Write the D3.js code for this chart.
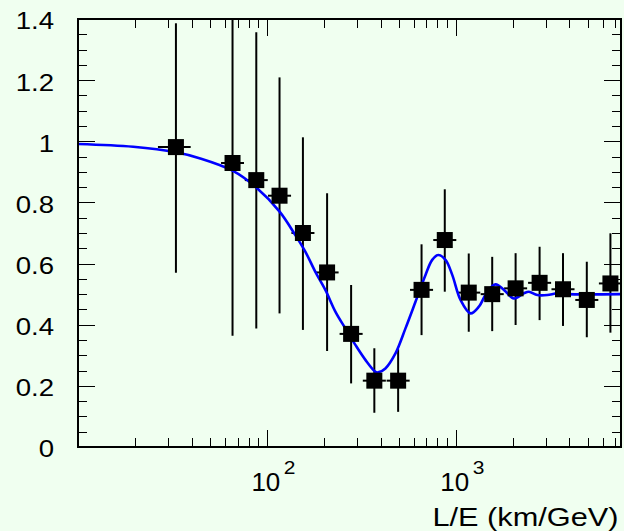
<!DOCTYPE html>
<html>
<head>
<meta charset="utf-8">
<script src="https://cdn.jsdelivr.net/npm/d3@7"></script>
<style>
  html, body { margin: 0; padding: 0; background: #f0fff0; }
  svg { display: block; }
  text { font-family: "Liberation Sans", Arial, Helvetica, sans-serif; fill: #000; }
</style>
</head>
<body>
<svg id="chart" width="624" height="531"></svg>
<script>
// Measured ratio of observed to expected events vs L/E, with bin extents and errors
const binCentre = [33.0, 65.8, 87.9, 116.7, 155.2, 208.4, 279.3, 370.7, 495.5, 659.2, 875, 1172, 1560, 2075, 2780, 3698, 4943, 6592];
const binLow    = [26.5, 57.2, 76.4, 101.4, 134.9, 181.1, 242.7, 322.1, 430.6, 572.8, 760.4, 1018.5, 1355.6, 1803.2, 2415.8, 3213.6, 4295.5, 5728.4];
const binHigh   = [39.5, 75.7, 101.1, 134.3, 178.6, 239.8, 321.4, 426.6, 570.2, 758.5, 1006.9, 1348.6, 1795.1, 2387.7, 3199, 4255.3, 5688, 7585.4];
const ratio     = [0.981, 0.929, 0.873, 0.822, 0.700, 0.571, 0.370, 0.217, 0.217, 0.514, 0.677, 0.505, 0.500, 0.519, 0.537, 0.516, 0.481, 0.535];
const errUp     = [1.386, 1.49, 1.357, 1.209, 1.013, 0.830, 0.530, 0.323, 0.320, 0.663, 0.843, 0.633, 0.622, 0.634, 0.655, 0.634, 0.606, 0.699];
const errDown   = [0.570, 0.364, 0.388, 0.437, 0.383, 0.314, 0.208, 0.112, 0.115, 0.366, 0.508, 0.377, 0.379, 0.399, 0.415, 0.396, 0.359, 0.374];

// Oscillation expectation (best fit), sampled along L/E
const fitLE    = [10, 19.6, 33, 44.4, 65.8, 87.9, 116.8, 141.5, 159.8, 180.6, 204, 230.5, 260.4, 294.2, 332.4, 375.7, 388, 424.4, 479.6, 541.9, 612.3, 691.8, 750.6, 807.6, 883, 958.3, 1060, 1198, 1326, 1469, 1626, 1799, 2032, 2296, 2441, 2705, 3056, 3453, 3901, 7500];
const fitRatio = [0.991, 0.982, 0.964, 0.944, 0.904, 0.849, 0.770, 0.693, 0.639, 0.573, 0.514, 0.443, 0.388, 0.334, 0.285, 0.246, 0.244, 0.257, 0.306, 0.388, 0.475, 0.563, 0.612, 0.628, 0.612, 0.563, 0.481, 0.437, 0.459, 0.508, 0.532, 0.514, 0.486, 0.503, 0.508, 0.497, 0.497, 0.503, 0.500, 0.500];

// Axis ticks and labels
const yMajor = [0, 0.2, 0.4, 0.6, 0.8, 1.0, 1.2, 1.4];
const yMajorLabels = ["0", "0.2", "0.4", "0.6", "0.8", "1", "1.2", "1.4"];
const yMinor = [0.05, 0.1, 0.15, 0.25, 0.3, 0.35, 0.45, 0.5, 0.55, 0.65, 0.7, 0.75, 0.85, 0.9, 0.95, 1.05, 1.1, 1.15, 1.25, 1.3, 1.35];
const xMajor = [100, 1000];
const xMajorExp = ["2", "3"];
const xMinor = [20, 30, 40, 50, 60, 70, 80, 90, 200, 300, 400, 500, 600, 700, 800, 900, 2000, 3000, 4000, 5000, 6000, 7000];
const xTitle = "L/E (km/GeV)";

const svg = d3.select("#chart");
const W = 624, H = 531;
const frameL = 78, frameR = 621, frameT = 19, frameB = 447;

svg.append("rect").attr("width", W).attr("height", H).attr("fill", "#f0fff0");

const x = d3.scaleLog().domain([10, 7500]).range([frameL, frameR]);
const y = d3.scaleLinear().domain([0, 1.4]).range([frameB, frameT]);

const majorLen = 17, minorLen = 9;
const stretch = 1.2; // horizontal widening of the axis lettering

function styleAxis(g) {
  g.select(".domain").remove();
  g.selectAll(".tick line").attr("stroke", "#000").attr("stroke-width", 1).attr("shape-rendering", "crispEdges");
}

// bottom ticks (pointing up into the frame)
svg.append("g").attr("transform", `translate(0,${frameB})`)
  .call(d3.axisBottom(x).tickValues(xMajor).tickSize(-majorLen).tickFormat(""))
  .call(styleAxis);
svg.append("g").attr("transform", `translate(0,${frameB})`)
  .call(d3.axisBottom(x).tickValues(xMinor).tickSize(-minorLen).tickFormat(""))
  .call(styleAxis);
// top ticks (pointing down)
svg.append("g").attr("transform", `translate(0,${frameT})`)
  .call(d3.axisTop(x).tickValues(xMajor).tickSize(-majorLen).tickFormat(""))
  .call(styleAxis);
svg.append("g").attr("transform", `translate(0,${frameT})`)
  .call(d3.axisTop(x).tickValues(xMinor).tickSize(-minorLen).tickFormat(""))
  .call(styleAxis);
// left ticks with labels
const yAxisG = svg.append("g").attr("transform", `translate(${frameL},0)`)
  .call(d3.axisLeft(y).tickValues(yMajor).tickSize(-majorLen).tickPadding(24)
    .tickFormat((d, i) => yMajorLabels[i]))
  .call(styleAxis);
yAxisG.selectAll(".tick text")
  .attr("font-size", 23)
  .attr("font-family", "'Liberation Sans', Arial, sans-serif")
  .attr("fill", "#000")
  .attr("x", -24 / stretch)
  .attr("dy", "0.43em")
  .attr("transform", `scale(${stretch},1)`);
svg.append("g").attr("transform", `translate(${frameL},0)`)
  .call(d3.axisLeft(y).tickValues(yMinor).tickSize(-minorLen).tickFormat(""))
  .call(styleAxis);
// right ticks
svg.append("g").attr("transform", `translate(${frameR},0)`)
  .call(d3.axisRight(y).tickValues(yMajor).tickSize(-majorLen).tickFormat(""))
  .call(styleAxis);
svg.append("g").attr("transform", `translate(${frameR},0)`)
  .call(d3.axisRight(y).tickValues(yMinor).tickSize(-minorLen).tickFormat(""))
  .call(styleAxis);

// x decade labels: 10 with superscript exponent
const xl = svg.append("g");
xMajor.forEach((v, i) => {
  const cx = x(v);
  xl.append("text").attr("x", cx - 1).attr("y", 491).attr("text-anchor", "middle")
    .attr("font-size", 26).text("10");
  xl.append("text").attr("transform", `translate(${cx + 17},474) scale(${stretch},1)`)
    .attr("text-anchor", "start")
    .attr("font-size", 17.5).text(xMajorExp[i]);
});

// x axis title
svg.append("text").attr("x", 618.5).attr("y", 525.5).attr("text-anchor", "end")
  .attr("font-size", 25.5)
  .attr("textLength", 186).attr("lengthAdjust", "spacingAndGlyphs")
  .text(xTitle);

// clip for data inside the frame
svg.append("clipPath").attr("id", "plotClip")
  .append("rect").attr("x", frameL).attr("y", frameT).attr("width", frameR - frameL).attr("height", frameB - frameT);

const plot = svg.append("g").attr("clip-path", "url(#plotClip)");

// error bars
const pts = binCentre.map((c, i) => ({ c, lo: binLow[i], hi: binHigh[i], v: ratio[i], up: errUp[i], dn: errDown[i] }));
plot.selectAll("line.ev").data(pts).join("line").attr("class", "ev")
  .attr("x1", d => x(d.c)).attr("x2", d => x(d.c))
  .attr("y1", d => y(d.up)).attr("y2", d => y(d.dn))
  .attr("stroke", "#000").attr("stroke-width", 2);
plot.selectAll("line.eh").data(pts).join("line").attr("class", "eh")
  .attr("x1", d => x(d.lo)).attr("x2", d => x(d.hi))
  .attr("y1", d => y(d.v)).attr("y2", d => y(d.v))
  .attr("stroke", "#000").attr("stroke-width", 2);

// fit curve
const line = d3.line().x((d, i) => x(fitLE[i])).y((d, i) => y(fitRatio[i])).curve(d3.curveCatmullRom.alpha(0.5));
plot.append("path").datum(fitLE).attr("d", line)
  .attr("fill", "none").attr("stroke", "#0000ff").attr("stroke-width", 2.6);

// markers
const ms = 16;
plot.selectAll("rect.mk").data(pts).join("rect").attr("class", "mk")
  .attr("x", d => x(d.c) - ms / 2).attr("y", d => y(d.v) - ms / 2)
  .attr("width", ms).attr("height", ms).attr("fill", "#000");

// frame
svg.append("rect").attr("x", frameL).attr("y", frameT).attr("width", frameR - frameL).attr("height", frameB - frameT)
  .attr("fill", "none").attr("stroke", "#000").attr("stroke-width", 2);
</script>
</body>
</html>
